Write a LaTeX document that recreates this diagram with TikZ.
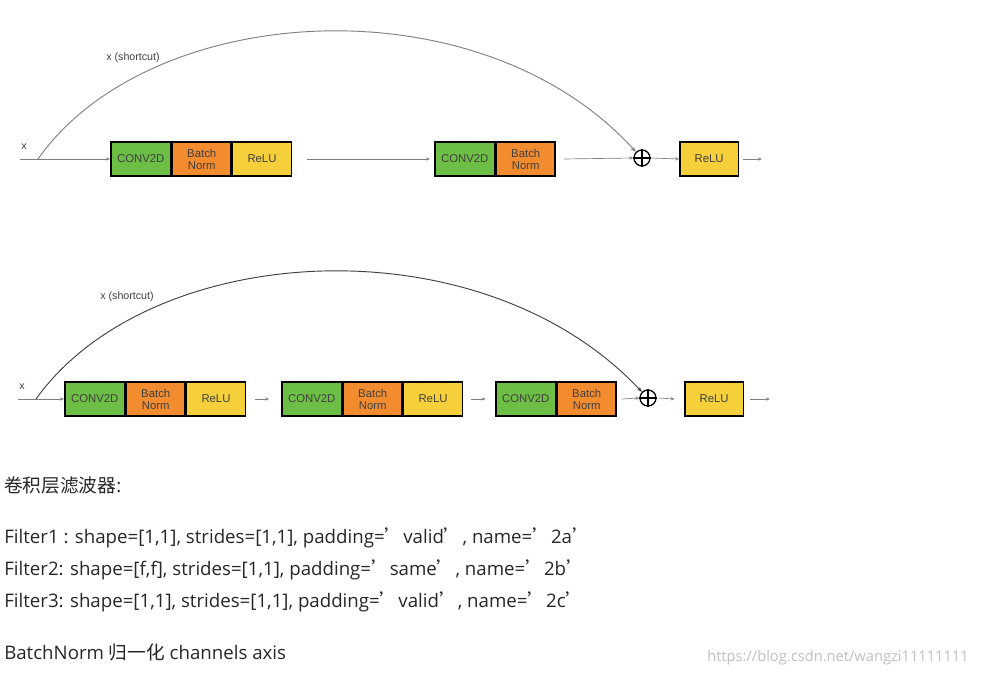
\documentclass[tikz,border=0pt]{standalone}
\usepackage{fontspec}
\setmainfont{Open Sans}
\newfontfamily\cjk{Noto Sans CJK SC}
\newfontfamily\arl{Liberation Sans}
\usetikzlibrary{arrows.meta}
\definecolor{cg}{HTML}{6DBE45}
\definecolor{co}{HTML}{F28C2F}
\definecolor{cy}{HTML}{F5D03A}
\begin{document}
\begin{tikzpicture}[x=0.75pt,y=-0.75pt,
 blk/.style={draw=black,line width=1.2pt,minimum height=25.5pt,inner sep=0pt,font=\arl\fontsize{8.5}{9}\selectfont,text=black!75,align=center,anchor=west},
 gb/.style={blk,fill=cg,minimum width=45pt},
 ob/.style={blk,fill=co,minimum width=44pt},
 yb/.style={blk,fill=cy,minimum width=44pt},
 ar/.style={draw=gray,line width=0.5pt,-{Stealth[length=3pt,width=2.5pt]}},
 sc/.style={line width=0.7pt,-{Stealth[length=4pt,width=3pt]}},
 pl/.style={circle,draw=black,line width=1pt,minimum size=12pt,inner sep=0pt},
 lb/.style={font=\arl\fontsize{8}{9}\selectfont,text=black!75},
 tx/.style={anchor=base west,inner sep=0pt,font=\fontsize{14}{16}\selectfont,text=black!85}]
\useasboundingbox (0,0) rectangle (982,674);
% top row
\node[lb] (x1) at (24,147) {x};
\coordinate (s1) at (20,159);
\coordinate (b1) at (38,159);
\node[gb] (a1) at (110,159) {CONV2D};
\node[ob] (a2) at (a1.east) {Batch\\Norm};
\node[yb] (a3) at (a2.east) {ReLU};
\node[gb] (a4) at (434,159) {CONV2D};
\node[ob] (a5) at (a4.east) {Batch\\Norm};
\node[pl] (p1) at (642,158) {};
\draw[line width=0.9pt] (p1.north)--(p1.south) (p1.west)--(p1.east);
\node[yb] (a6) at (679,159) {ReLU};
\coordinate (e1) at (762,159);
\coordinate (m1) at (307,159);
\coordinate (m1b) at (430,159);
\draw[ar] (s1) -- (a1.west);
\draw[ar] (m1) -- (m1b);
\draw[ar] (a5.east) ++(8,0) -- (p1.west);
\draw[ar] (p1.east) -- (a6.west);
\draw[ar] (a6.east) ++(4,0) -- (e1);
\draw[sc,draw=gray] (b1) .. controls (150,0) and (480,-20) .. (p1.north west);
\node[lb] (l1) at (133,58) {x (shortcut)};
% bottom row
\node[lb] (x2) at (22,387) {x};
\coordinate (s2) at (18,399);
\coordinate (b2) at (36,399);
\node[gb] (c1) at (64,399) {CONV2D};
\node[ob] (c2) at (c1.east) {Batch\\Norm};
\node[yb] (c3) at (c2.east) {ReLU};
\node[gb] (c4) at (281,399) {CONV2D};
\node[ob] (c5) at (c4.east) {Batch\\Norm};
\node[yb] (c6) at (c5.east) {ReLU};
\node[gb] (c7) at (495,399) {CONV2D};
\node[ob] (c8) at (c7.east) {Batch\\Norm};
\node[pl] (p2) at (648,398) {};
\draw[line width=0.9pt] (p2.north)--(p2.south) (p2.west)--(p2.east);
\node[yb] (c9) at (684,399) {ReLU};
\coordinate (e2) at (770,399);
\draw[ar] (s2) -- (c1.west);
\draw[ar] (c3.east) ++(9,0) -- ([xshift=-9]c4.west);
\draw[ar] (c6.east) ++(8,0) -- ([xshift=-7]c7.west);
\draw[ar] (c8.east) ++(5,0) -- (p2.west);
\draw[ar] (p2.east) ++(2,0) -- ([xshift=-7]c9.west);
\draw[ar] (c9.east) ++(6,0) -- (e2);
\draw[sc,draw=black!75] (b2) .. controls (150,240) and (480,220) .. (p2.north west);
\node[lb] (l2) at (127,297) {x (shortcut)};
% text
\node[tx] (t0) at (4,492) {{\cjk 卷积层滤波器}:};
\node[tx] (t1) at (4,543) {Filter1 : shape=[1,1], strides=[1,1], padding={\cjk ’}valid{\cjk ’}, name={\cjk ’}2a{\cjk ’}};
\node[tx] (t2) at (4,575) {Filter2: shape=[f,f], strides=[1,1], padding={\cjk ’}same{\cjk ’}, name={\cjk ’}2b{\cjk ’}};
\node[tx] (t3) at (4,607) {Filter3: shape=[1,1], strides=[1,1], padding={\cjk ’}valid{\cjk ’}, name={\cjk ’}2c{\cjk ’}};
\node[tx] (t4) at (4,659) {BatchNorm {\cjk 归一化} channels axis};
\node[anchor=base west,inner sep=0pt,font=\fontsize{11}{12}\selectfont,text=black!25] (wm) at (707,661) {https://blog.csdn.net/wangzi11111111};
\end{tikzpicture}
\end{document}
